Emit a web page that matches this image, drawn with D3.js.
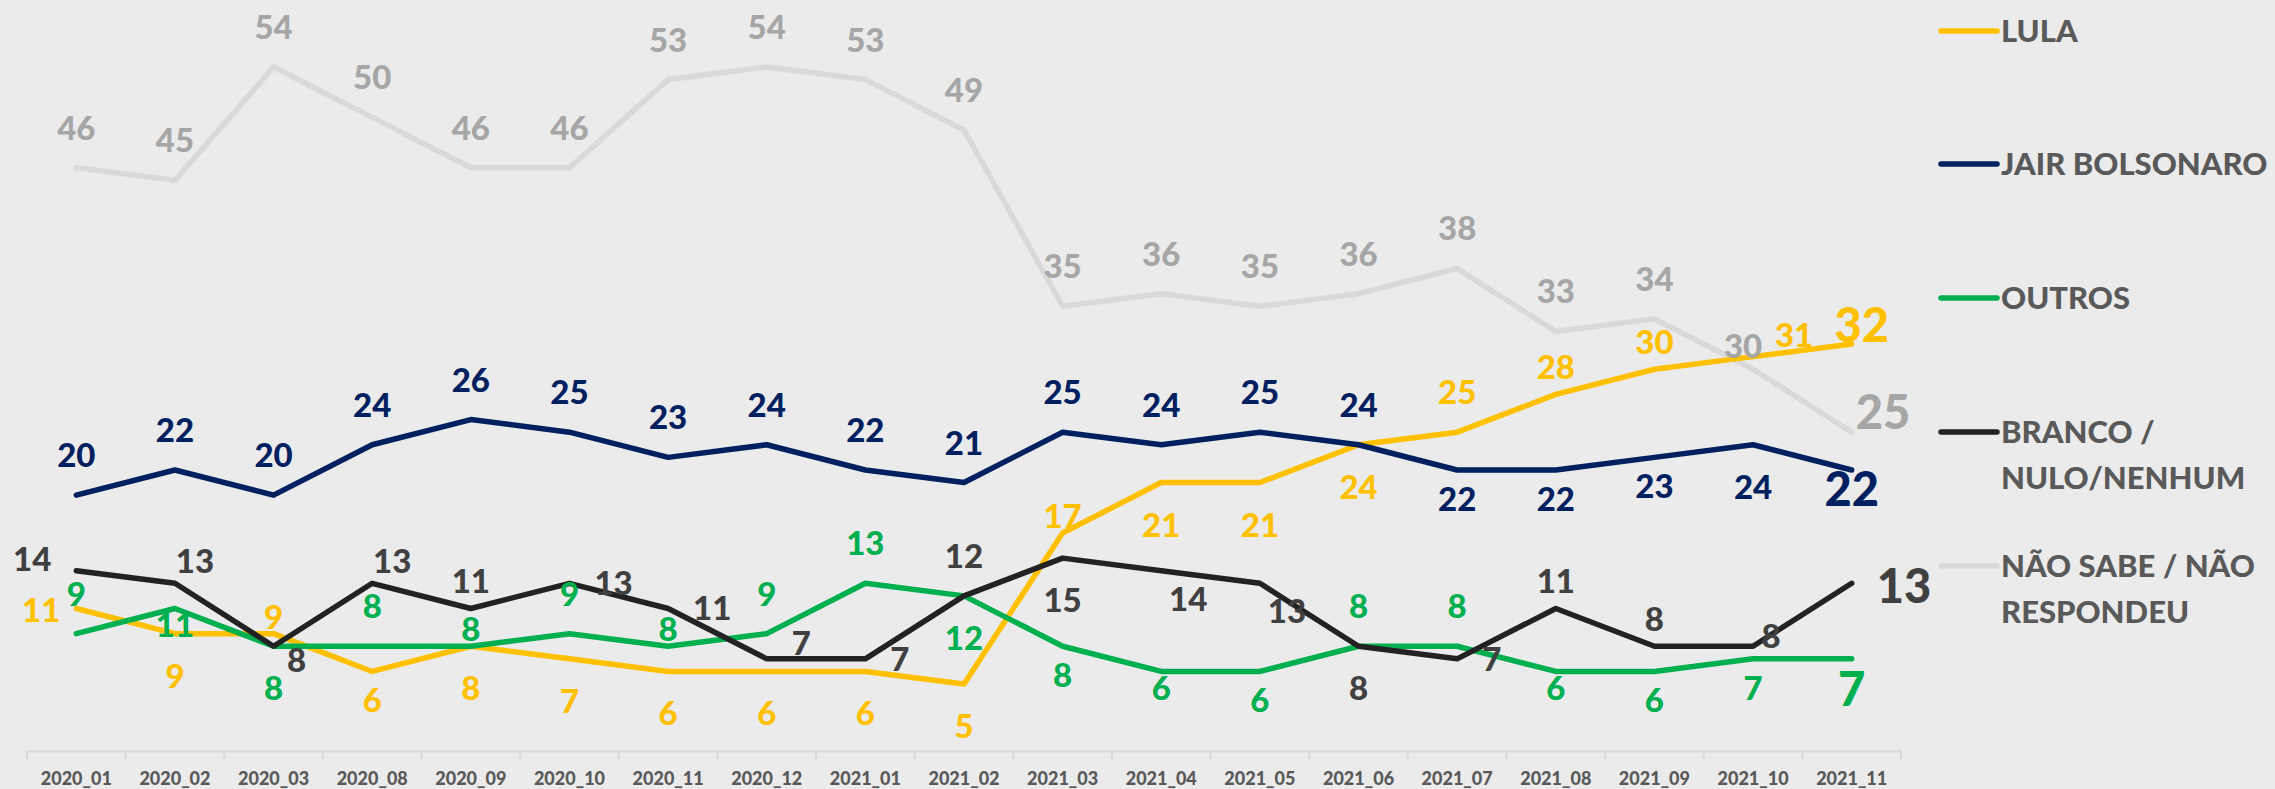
<!DOCTYPE html>
<html>
<head>
<meta charset="utf-8">
<script src="https://cdn.jsdelivr.net/npm/d3@7"></script>
<style>
  body { margin: 0; background: #ebebeb; }
  svg { display: block; font-family: Lato, "Open Sans", sans-serif; }
</style>
</head>
<body>
<svg id="chart" width="2275" height="789"></svg>
<script>
// Poll data
const categories = ["2020_01", "2020_02", "2020_03", "2020_08", "2020_09", "2020_10", "2020_11", "2020_12",
  "2021_01", "2021_02", "2021_03", "2021_04", "2021_05", "2021_06", "2021_07", "2021_08", "2021_09",
  "2021_10", "2021_11"];
const lula = [11, 9, 9, 6, 8, 7, 6, 6, 6, 5, 17, 21, 21, 24, 25, 28, 30, 31, 32];
const bolsonaro = [20, 22, 20, 24, 26, 25, 23, 24, 22, 21, 25, 24, 25, 24, 22, 22, 23, 24, 22];
const outros = [9, 11, 8, 8, 8, 9, 8, 9, 13, 12, 8, 6, 6, 8, 8, 6, 6, 7, 7];
const branco = [14, 13, 8, 13, 11, 13, 11, 7, 7, 12, 15, 14, 13, 8, 7, 11, 8, 8, 13];
const naoSabe = [46, 45, 54, 50, 46, 46, 53, 54, 53, 49, 35, 36, 35, 36, 38, 33, 34, 30, 25];
const legendNames = [["LULA"], ["JAIR BOLSONARO"], ["OUTROS"], ["BRANCO /", "NULO/NENHUM"], ["NÃO SABE / NÃO", "RESPONDEU"]];

const COLOR = {
  LULA: "#ffc000",
  BOLSO: "#002060",
  OUTROS: "#00b050",
  BRANCO: "#222222",
  BRANCO_TXT: "#404040",
  NS: "#d9d9d9",
  NS_TXT: "#a6a6a6",
  TEXT: "#595959"
};

// label placement codes: [dx, dy(baseline), anchor]
const PLACE = {
  T: [0, -28, "middle"], T2: [0, -15, "middle"], T3: [0, -5, "middle"],
  B: [0, 54, "middle"], B2: [0, 41, "middle"], B3: [0, 29, "middle"],
  L: [-16, 14, "end"], L2: [-25, 0, "end"],
  R: [25, 12, "start"], RT: [25, -4, "start"], RC: [18, 2, "middle"],
  TR: [20, -10, "middle"], TR2: [41, -10, "middle"], TL: [-10, -11, "middle"],
  BR: [27, 40, "middle"], BR2: [23, 26, "middle"],
  EL: [10, -2, "middle"], EG: [4, -3, "start"], EN: [0, 36, "middle"],
  EB: [25, 20, "start"], EO: [0, 47, "middle"]
};

const series = [
  { name: "NS", values: naoSabe, line: COLOR.NS, text: COLOR.NS_TXT,
    pos: ["T","T","T","T","T","T","T","T","T","T","T","T","T","T","T","T","T","TL","EG"] },
  { name: "LULA", values: lula, line: COLOR.LULA, text: COLOR.LULA,
    pos: ["L","B","T3","B2","B","B","B","B","B","B","T3","B","B","B","T","T2","T2","TR2","EL"] },
  { name: "BOLSO", values: bolsonaro, line: COLOR.BOLSO, text: COLOR.BOLSO,
    pos: ["T","T","T","T","T","T","T","T","T","T","T","T","T","T","B2","B2","B2","B","EN"] },
  { name: "OUTROS", values: outros, line: COLOR.OUTROS, text: COLOR.OUTROS,
    pos: ["T","B3","B","T","T3","T","T3","T","T","B","B2","B3","B2","T","T","B3","B2","B2","EO"] },
  { name: "BRANCO", values: branco, line: COLOR.BRANCO, text: COLOR.BRANCO_TXT,
    pos: ["L2","TR","BR2","TR","T2","R","R","RT","R","T","B","BR","BR","B","R","T2","T2","RC","EB"] }
];
const legendColors = [COLOR.LULA, COLOR.BOLSO, COLOR.OUTROS, COLOR.BRANCO, COLOR.NS];

const svg = d3.select("#chart");
svg.append("rect").attr("width", 2275).attr("height", 789).attr("fill", "#ebebeb");

const x = d3.scaleBand().domain(categories).range([27, 1901]);
const y = d3.scaleLinear().domain([0, 54]).range([747, 67]);
const cx = c => x(c) + x.bandwidth() / 2;

// axis
const axisY = 751;
const axis = svg.append("g")
  .attr("transform", "translate(0," + axisY + ")")
  .call(d3.axisBottom(x).tickSize(0).tickSizeOuter(0));
axis.select(".domain").attr("stroke", "#d9d9d9").attr("stroke-width", 2);
axis.selectAll("text")
  .attr("y", 34).attr("dy", 0)
  .attr("fill", COLOR.TEXT)
  .style("font-family", "Lato, sans-serif")
  .style("font-size", "18px")
  .style("font-weight", "900");
axis.selectAll(".edge")
  .data(d3.range(categories.length + 1))
  .enter()
  .append("line")
  .attr("class", "edge")
  .attr("x1", i => x.range()[0] + i * x.step())
  .attr("x2", i => x.range()[0] + i * x.step())
  .attr("y1", 0).attr("y2", 8)
  .attr("stroke", "#d9d9d9").attr("stroke-width", 2);

// lines
const line = d3.line()
  .x((d, i) => cx(categories[i]))
  .y(d => y(d));

series.forEach(s => {
  svg.append("path")
    .datum(s.values)
    .attr("d", line)
    .attr("fill", "none")
    .attr("stroke", s.line)
    .attr("stroke-width", 5.5)
    .attr("stroke-linejoin", "round")
    .attr("stroke-linecap", "round");
});

// data labels
series.forEach(s => {
  const last = s.values.length - 1;
  svg.append("g")
    .selectAll("text")
    .data(s.values)
    .enter()
    .append("text")
    .attr("x", (d, i) => cx(categories[i]) + PLACE[s.pos[i]][0])
    .attr("y", (d, i) => y(d) + PLACE[s.pos[i]][1])
    .attr("text-anchor", (d, i) => PLACE[s.pos[i]][2])
    .attr("fill", s.text)
    .style("font-size", (d, i) => (i === last ? "47px" : "33px"))
    .style("font-weight", "900")
    .text(d => d);
});

// legend
const legend = svg.append("g");
const legendY = [31, 164, 298, 432, 566];
legendNames.forEach((lines, i) => {
  legend.append("line")
    .attr("x1", 1941).attr("x2", 1997)
    .attr("y1", legendY[i]).attr("y2", legendY[i])
    .attr("stroke", legendColors[i])
    .attr("stroke-width", 5.5)
    .attr("stroke-linecap", "round");
  const t = legend.append("text")
    .attr("x", 2001)
    .attr("y", legendY[i] + 11)
    .attr("fill", COLOR.TEXT)
    .style("font-size", "31px")
    .style("font-weight", "900");
  lines.forEach((l, j) => {
    t.append("tspan").attr("x", 2001).attr("dy", j === 0 ? 0 : 46).text(l);
  });
});
</script>
</body>
</html>
